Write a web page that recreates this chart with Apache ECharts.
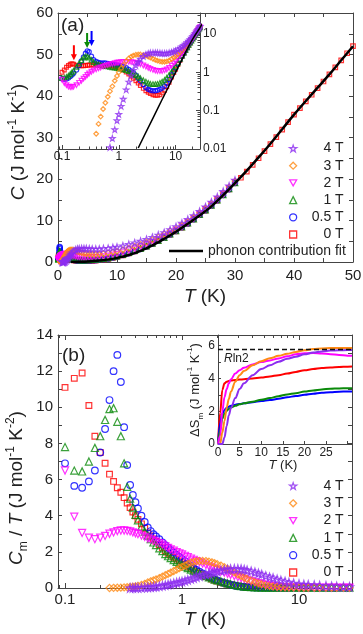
<!DOCTYPE html>
<html>
<head>
<meta charset="UTF-8">
<title>Specific heat</title>
<script src="https://cdn.jsdelivr.net/npm/echarts@6/dist/echarts.min.js"></script>
<style>
  html, body { margin: 0; padding: 0; background: #fff; }
  #main { width: 363px; height: 634px; }
</style>
</head>
<body>
<div id="main"></div>
<script>
// ---------- data ----------
const fields = ['0 T', '0.5 T', '1 T', '2 T', '3 T', '4 T'];
const legendOrder = ['4 T', '3 T', '2 T', '1 T', '0.5 T', '0 T'];

// (a) total C (J/mol K) vs T (K), used by main panel and log-log inset
const tempC = [0.10,0.11,0.12,0.13,0.14,0.15,0.16,0.18,0.20,0.22,
  0.24,0.26,0.28,0.30,0.33,0.36,0.40,0.44,0.48,0.53,
  0.58,0.64,0.70,0.77,0.85,0.93,1.0,1.1,1.2,1.35,
  1.5,1.65,1.8,2.0,2.2,2.4,2.7,3.0,3.3,3.6,
  4.0,4.4,4.8,5.3,5.8,6.4,7.0,7.7,8.5,9.3,
  10,11,12,13,14,15,16,17,18,19,
  20,21,22,23,24,25,26,27,28,29,
  30];
const c0T = [1.0,1.15,1.35,1.5,1.62,1.68,1.62,1.52,1.48,1.47,
  1.48,1.5,1.52,1.54,1.55,1.55,1.55,1.54,1.52,1.5,
  1.5,1.49,1.47,1.45,1.42,1.38,1.33,1.25,1.15,1.02,
  0.9,0.8,0.7,0.6,0.52,0.45,0.38,0.33,0.3,0.28,
  0.26,0.25,0.25,0.26,0.29,0.34,0.42,0.55,0.75,0.98,
  1.2,1.6,2.05,2.55,3.1,3.7,4.35,5.05,5.8,6.6,
  7.4,8.3,9.25,10.25,11.3,12.4,13.55,14.8,16.1,17.5,
  19.0];
const c05T = [0.68,0.66,0.67,0.71,0.78,0.85,0.94,1.15,1.5,1.95,
  2.5,3.1,3.6,3.4,2.6,2.1,1.9,1.8,1.74,1.73,
  1.73,1.7,1.66,1.62,1.58,1.55,1.52,1.47,1.4,1.3,
  1.18,1.06,0.97,0.83,0.7,0.6,0.48,0.4,0.36,0.34,
  0.33,0.33,0.34,0.36,0.39,0.44,0.52,0.65,0.85,1.07,
  1.3,1.68,2.12,2.62,3.15,3.75,4.4,5.1,5.85,6.65,
  7.45,8.35,9.3,10.3,11.35,12.45,13.6,14.85,16.15,17.55,
  19.05];
const c1T = [0.7,0.72,0.76,0.82,0.9,1.0,1.1,1.38,1.7,2.05,
  2.4,2.58,2.55,2.4,2.1,1.85,1.68,1.6,1.53,1.48,
  1.45,1.42,1.38,1.35,1.32,1.3,1.27,1.24,1.2,1.14,
  1.07,1.0,0.92,0.85,0.77,0.7,0.62,0.57,0.53,0.5,
  0.49,0.49,0.5,0.53,0.57,0.63,0.72,0.85,1.02,1.22,
  1.42,1.8,2.25,2.72,3.25,3.85,4.48,5.17,5.9,6.7,
  7.5,8.4,9.35,10.35,11.4,12.5,13.65,14.9,16.2,17.6,
  19.1];
const c2T = [0.64,0.52,0.46,0.42,0.41,0.41,0.42,0.46,0.53,0.6,
  0.68,0.76,0.85,0.93,1.03,1.12,1.2,1.27,1.33,1.4,
  1.47,1.54,1.6,1.66,1.72,1.77,1.8,1.84,1.86,1.87,
  1.86,1.84,1.8,1.75,1.68,1.6,1.5,1.4,1.3,1.22,
  1.15,1.1,1.08,1.07,1.08,1.12,1.18,1.3,1.48,1.7,
  1.9,2.28,2.7,3.15,3.63,4.15,4.75,5.4,6.1,6.85,
  7.6,8.5,9.45,10.45,11.5,12.6,13.75,15.0,16.3,17.7,
  19.2];
const c3T = [null,null,null,null,null,null,null,null,null,null,
  null,null,null,null,null,null,0.025,0.045,0.07,0.11,
  0.16,0.23,0.32,0.43,0.6,0.8,1.0,1.27,1.55,1.95,
  2.3,2.55,2.72,2.85,2.9,2.9,2.82,2.7,2.55,2.4,
  2.25,2.1,2.0,1.92,1.88,1.88,1.92,2.02,2.2,2.42,
  2.6,2.95,3.35,3.78,4.25,4.8,5.4,6.05,6.75,7.5,
  7.95,8.85,9.8,10.8,11.85,12.95,14.1,15.35,16.65,18.05,
  19.5];
const c4T = [null,null,null,null,null,null,null,null,null,null,
  null,null,null,null,null,null,null,null,null,null,
  null,null,0.011,0.019,0.032,0.055,0.08,0.13,0.2,0.35,
  0.56,0.82,1.13,1.5,1.88,2.2,2.6,2.9,3.08,3.18,
  3.22,3.22,3.2,3.16,3.12,3.1,3.12,3.2,3.3,3.45,
  3.6,3.9,4.25,4.6,5.0,5.45,5.95,6.5,7.1,7.8,
  8.5,9.35,10.25,11.2,12.2,13.3,14.45,15.7,17.0,18.35,
  19.75];
// 0 T continues to 50 K
const tempHigh = [31,32,33,34,35,36,37,38,39,40,41,42,43,44,45,46,47,48,49,50];
const c0THigh = [20.3,21.8,23.4,25.0,26.7,28.4,30.1,31.9,33.7,35.5,37.1,38.7,40.3,41.9,43.5,45.2,46.9,48.6,50.3,52.0];

// phonon contribution fit
const tempPh = [2.2,3,4,5,6,7,8,10,12,14,16,18,20,22,24,26,28,30,32,34,36,38,40,42,44,46,48,50];
const cPh = [0.0106,0.027,0.064,0.125,0.216,0.34,0.51,1.0,1.7,2.7,4.0,5.6,7.3,9.2,11.2,13.4,16.1,19.0,22.0,25.2,28.5,32.0,35.5,38.8,42.0,45.2,48.6,52.0];

// arrows in inset (a): 0 T, 0.5 T, 1 T
const arrowT = [0.162, 0.332, 0.277];
const arrowC = [2.07, 4.8, 4.28];

// (b) Cm/T (J/mol K^2) vs T (K)
const tempCm = [0.10,0.12,0.14,0.16,0.18,0.20,0.22,0.24,0.26,0.28,
  0.30,0.32,0.34,0.36,0.38,0.40,0.42,0.45,0.48,0.51,
  0.54,0.57,0.60,0.64,0.68,0.72,0.76,0.80,0.85,0.90,
  0.95,1.0,1.06,1.12,1.19,1.26,1.33,1.41,1.5,1.6,
  1.7,1.8,1.9,2.0,2.15,2.3,2.45,2.6,2.8,3.0,
  3.2,3.4,3.6,3.9,4.2,4.5,4.8,5.2,5.6,6.0,
  6.5,7.0,7.6,8.2,9.0,10,11,12,13.5,15,
  17,19,21,24,27];
const cm0T = [11.1,11.6,11.9,10.1,8.4,7.5,6.9,6.3,5.9,5.55,
  5.3,5.0,4.7,4.45,4.2,4.0,3.8,3.55,3.3,3.05,
  2.88,2.72,2.58,2.4,2.22,2.05,1.93,1.82,1.7,1.6,
  1.5,1.4,1.3,1.2,1.1,1.0,0.9,0.82,0.73,0.65,
  0.58,0.5,0.44,0.39,0.32,0.27,0.22,0.18,0.14,0.11,
  0.09,0.07,0.055,0.04,0.03,0.025,0.02,0.02,0.02,0.02,
  0.02,0.02,0.02,0.02,0.02,0.02,0.02,0.02,0.02,0.02,
  0.02,0.02,0.02,0.02,0.02];
const cm05T = [6.9,5.65,5.55,5.9,6.5,7.5,8.8,10.4,12.0,12.9,
  11.4,8.9,6.8,5.7,5.15,4.75,4.4,4.0,3.65,3.35,
  3.15,2.98,2.85,2.7,2.52,2.37,2.23,2.1,1.96,1.83,
  1.72,1.6,1.48,1.35,1.22,1.1,1.0,0.9,0.8,0.7,
  0.62,0.55,0.48,0.42,0.34,0.28,0.23,0.18,0.14,0.1,
  0.08,0.06,0.05,0.04,0.03,0.025,0.02,0.02,0.02,0.02,
  0.02,0.02,0.02,0.02,0.02,0.02,0.02,0.02,0.02,0.02,
  0.02,0.02,0.02,0.02,0.02];
const cm1T = [7.8,6.5,6.45,7.0,7.75,8.4,9.3,9.9,9.95,9.2,
  8.4,6.9,5.6,4.95,4.45,4.05,3.75,3.4,3.12,2.9,
  2.7,2.52,2.38,2.2,2.04,1.88,1.76,1.66,1.55,1.45,
  1.36,1.28,1.18,1.1,1.02,0.95,0.89,0.82,0.74,0.66,
  0.59,0.53,0.47,0.43,0.37,0.31,0.26,0.22,0.17,0.13,
  0.1,0.08,0.065,0.05,0.04,0.03,0.025,0.02,0.02,0.02,
  0.02,0.02,0.02,0.02,0.02,0.02,0.02,0.02,0.02,0.02,
  0.02,0.02,0.02,0.02,0.02];
const cm2T = [6.5,3.95,3.05,2.78,2.7,2.78,2.88,3.0,3.08,3.15,
  3.18,3.18,3.16,3.13,3.08,3.03,2.98,2.9,2.83,2.74,
  2.68,2.62,2.56,2.48,2.4,2.3,2.22,2.14,2.06,1.99,
  1.92,1.86,1.78,1.7,1.63,1.56,1.49,1.42,1.35,1.28,
  1.2,1.12,1.05,1.0,0.92,0.85,0.79,0.73,0.66,0.6,
  0.55,0.5,0.45,0.38,0.32,0.27,0.22,0.17,0.13,0.1,
  0.07,0.055,0.045,0.035,0.03,0.025,0.02,0.02,0.02,0.02,
  0.02,0.02,0.02,0.02,0.02];
const cm3T = [null,null,null,null,null,null,null,0.0,0.01,0.015,
  0.02,0.03,0.04,0.055,0.07,0.09,0.12,0.17,0.23,0.31,
  0.37,0.42,0.47,0.55,0.63,0.71,0.78,0.85,0.94,1.02,
  1.1,1.17,1.25,1.33,1.4,1.45,1.48,1.5,1.5,1.49,
  1.46,1.42,1.37,1.32,1.24,1.15,1.06,0.97,0.86,0.76,
  0.67,0.58,0.5,0.41,0.33,0.27,0.21,0.16,0.12,0.09,
  0.07,0.055,0.045,0.035,0.03,0.025,0.02,0.02,0.02,0.02,
  0.02,0.02,0.02,0.02,0.02];
const cm4T = [null,null,null,null,null,null,null,null,null,null,
  null,null,null,0.0,0.005,0.01,0.015,0.02,0.03,0.04,
  0.05,0.065,0.08,0.1,0.13,0.16,0.19,0.22,0.26,0.3,
  0.33,0.36,0.4,0.45,0.5,0.55,0.6,0.66,0.71,0.76,
  0.8,0.85,0.88,0.92,0.96,1.0,1.03,1.05,1.06,1.06,
  1.05,1.02,0.98,0.93,0.87,0.81,0.75,0.67,0.6,0.55,
  0.48,0.42,0.36,0.31,0.26,0.22,0.2,0.18,0.16,0.14,
  0.12,0.1,0.09,0.08,0.07];

// (b) inset: magnetic entropy dSm (J/mol K) vs T (K)
const tempS = [0,0.5,1,1.5,2,2.5,3,4,5,6,8,10,12,14,16,18,20,22,24,26,28,30,31];
const dS0T = [0,1.9,3.3,3.7,3.8,3.85,3.88,3.9,3.93,3.95,4.0,4.05,4.12,4.2,4.3,4.4,4.5,4.57,4.63,4.67,4.7,4.72,4.73];
const dS05T = [0,1.3,1.85,2.08,2.2,2.28,2.33,2.4,2.44,2.48,2.55,2.62,2.68,2.76,2.85,2.93,3.0,3.06,3.12,3.16,3.19,3.21,3.21];
const dS1T = [0,0.85,1.55,1.85,2.02,2.13,2.22,2.33,2.42,2.48,2.58,2.7,2.8,2.92,3.02,3.1,3.2,3.27,3.33,3.37,3.39,3.4,3.4];
const dS2T = [0,0.5,2.0,2.85,3.35,3.7,3.95,4.3,4.5,4.65,4.85,5.0,5.1,5.22,5.35,5.47,5.53,5.55,5.52,5.48,5.43,5.39,5.38];
const dS3T = [0,0.02,0.7,1.4,2.2,2.75,3.2,3.8,4.2,4.45,4.8,5.05,5.23,5.38,5.5,5.62,5.72,5.79,5.83,5.85,5.86,5.86,5.86];
const dS4T = [0,0,0,0.4,1.1,1.75,2.2,2.8,3.35,3.7,4.2,4.57,4.8,5.02,5.2,5.33,5.47,5.58,5.65,5.7,5.72,5.73,5.73];
const rln2 = 5.76;

// ---------- styling ----------
const cAll = [c0T, c05T, c1T, c2T, c3T, c4T];
const cmAll = [cm0T, cm05T, cm1T, cm2T, cm3T, cm4T];
const dSAll = [dS0T, dS05T, dS1T, dS2T, dS3T, dS4T];
const COLORS = ['#ff0000', '#0000ff', '#0a8a0a', '#ff00ff', '#ff8a14', '#8c2cf0'];
const SYMBOLS = [
  'rect',
  'circle',
  'triangle',
  'path://M0,0 L10,0 L5,8.7 Z',
  'path://M5,0 L10,5 L5,10 L0,5 Z',
  'path://M12,0 L14.9,8.6 L24,8.6 L16.6,14 L19.4,22.8 L12,17.4 L4.6,22.8 L7.4,14 L0,8.6 L9.1,8.6 Z'
];
const SIZES = [6, 7, 7.5, 7.5, 7.5, 8.5];
const FONT = '"Liberation Sans", Arial, Helvetica, sans-serif';
const INK = '#222';
const ARROW = 'path://M2,0 L4,0 L4,9 L6,9 L3,15 L0,9 L2,9 Z';
const lg = Math.log10;

function pairs(xs, ys, fx, fy) {
  const out = [];
  xs.forEach((x, i) => {
    const y = ys[i];
    if (y == null) return;
    if (fy && y <= 0) return;
    out.push([fx ? fx(x) : x, fy ? fy(y) : y]);
  });
  return out;
}

function logMinors(lo, hi) {
  const out = [];
  for (let d = -3; d <= 2; d++) {
    for (let m = 2; m <= 9; m++) {
      const v = d + lg(m);
      if (v > lo && v < hi) out.push(v);
    }
  }
  return out;
}
const LOGLBL = { '-2': '0.01', '-1': '0.1', '0': '1', '1': '10' };
const logFmt = v => LOGLBL[String(Math.round(v))] || '';

function ax(o) {
  const a = {
    type: 'value', gridIndex: o.grid, position: o.pos, min: o.min, max: o.max,
    splitLine: { show: false },
    axisLine: { show: o.line !== false, onZero: false, lineStyle: { color: '#444', width: 1 } },
    axisTick: { show: true, inside: true, length: o.tickLen || 4, lineStyle: { color: '#444', width: 1 } },
    axisLabel: { show: !!o.fmt, margin: o.margin || 4, fontSize: o.fontSize || 15, color: INK,
      fontFamily: FONT, formatter: o.fmt }
  };
  if (o.interval) a.interval = o.interval;
  if (o.ticks) a.axisTick.customValues = o.ticks;
  if (o.labels) a.axisLabel.customValues = o.labels;
  return a;
}

const insX = [-1.07, 1.43];
const insY = [-2, 1.544];
const botX = [-1.06, 1.453];

const xAxis = [
  ax({ grid: 0, pos: 'bottom', min: 0, max: 50, interval: 5, margin: 6, fmt: v => (v % 10 === 0 ? String(v) : '') }),
  ax({ grid: 0, pos: 'top', min: 0, max: 50, interval: 5 }),
  ax({ grid: 1, pos: 'bottom', min: insX[0], max: insX[1], ticks: [-1, 0, 1], labels: [-1, 0, 1], fmt: logFmt, fontSize: 12, margin: 2 }),
  ax({ grid: 1, pos: 'bottom', min: insX[0], max: insX[1], ticks: logMinors(insX[0], insX[1]), tickLen: 2.5, line: false }),
  ax({ grid: 2, pos: 'bottom', min: botX[0], max: botX[1], ticks: [-1, 0, 1], labels: [-1, 0, 1], fmt: logFmt, margin: 4, tickLen: 5 }),
  ax({ grid: 2, pos: 'bottom', min: botX[0], max: botX[1], ticks: logMinors(botX[0], botX[1]), tickLen: 3, line: false }),
  ax({ grid: 2, pos: 'top', min: botX[0], max: botX[1], ticks: [-1, 0, 1], tickLen: 5 }),
  ax({ grid: 2, pos: 'top', min: botX[0], max: botX[1], ticks: logMinors(botX[0], botX[1]), tickLen: 3, line: false }),
  ax({ grid: 3, pos: 'bottom', min: 0, max: 31, interval: 5, labels: [0, 5, 10, 15, 20, 25], fmt: v => String(v), fontSize: 12, margin: 3, tickLen: 3 })
];
const yAxis = [
  ax({ grid: 0, pos: 'left', min: 0, max: 60, interval: 5, margin: 5, fmt: v => (v % 10 === 0 ? String(v) : '') }),
  ax({ grid: 0, pos: 'right', min: 0, max: 60, interval: 5 }),
  ax({ grid: 1, pos: 'right', min: insY[0], max: insY[1], ticks: [-2, -1, 0, 1], labels: [-2, -1, 0, 1], fmt: logFmt, fontSize: 12, margin: 3 }),
  ax({ grid: 1, pos: 'right', min: insY[0], max: insY[1], ticks: logMinors(insY[0], insY[1]), tickLen: 2.5, line: false }),
  ax({ grid: 2, pos: 'left', min: 0, max: 14, interval: 1, margin: 5, fmt: v => (v % 2 === 0 ? String(v) : '') }),
  ax({ grid: 2, pos: 'right', min: 0, max: 14, interval: 1 }),
  ax({ grid: 3, pos: 'left', min: 0, max: 6.65, interval: 1, labels: [0, 2, 4, 6], fmt: v => String(v), fontSize: 12, margin: 3, tickLen: 3 })
];

function scatter(i, xi, yi, data, scale, extra) {
  return Object.assign({
    name: fields[i], type: 'scatter', xAxisIndex: xi, yAxisIndex: yi, data,
    symbol: SYMBOLS[i], symbolSize: SIZES[i] * scale, clip: true, silent: true,
    itemStyle: { color: 'rgba(0,0,0,0)', borderColor: COLORS[i], borderWidth: 1.2 }
  }, extra || {});
}

const series = [];
// (a) main
fields.forEach((f, i) => {
  let d = pairs(tempC, cAll[i]);
  if (i === 0) d = d.concat(pairs(tempHigh, c0THigh));
  series.push(scatter(i, 0, 0, d, 0.75));
});
series.push({ name: 'phonon contribution fit', type: 'line', xAxisIndex: 0, yAxisIndex: 0,
  data: pairs(tempPh, cPh), symbol: 'none', smooth: 0.3, silent: true,
  lineStyle: { color: '#000', width: 2.5 }, itemStyle: { color: '#000' } });
// (a) inset
fields.forEach((f, i) => {
  const extra = {};
  if (i < 3) {
    extra.markPoint = {
      silent: true, symbol: ARROW, symbolSize: [6, 15], symbolOffset: [0, '-50%'],
      label: { show: false }, itemStyle: { color: COLORS[i] },
      data: [{ coord: [lg(arrowT[i]), lg(arrowC[i])] }]
    };
  }
  series.push(scatter(i, 2, 2, pairs(tempC, cAll[i], lg, lg), 0.62, extra));
});
series.push({ name: 'phonon contribution fit', type: 'line', xAxisIndex: 2, yAxisIndex: 2,
  data: pairs(tempPh, cPh, lg, lg), symbol: 'none', silent: true,
  lineStyle: { color: '#000', width: 1.5 }, itemStyle: { color: '#000' } });
// (b) main
fields.forEach((f, i) => {
  series.push(scatter(i, 4, 4, pairs(tempCm, cmAll[i], lg), 0.95));
});
// (b) inset
fields.forEach((f, i) => {
  const s = { name: 'dS ' + f, type: 'line', xAxisIndex: 8, yAxisIndex: 6, data: pairs(tempS, dSAll[i]),
    symbol: 'none', smooth: 0.35, smoothMonotone: 'x', silent: true,
    lineStyle: { color: COLORS[i], width: 2 }, itemStyle: { color: COLORS[i] } };
  if (i === 0) {
    s.markLine = { silent: true, symbol: 'none', label: { show: false },
      lineStyle: { color: '#111', type: [5, 3], width: 1.3 }, data: [{ yAxis: rln2 }] };
  }
  series.push(s);
});

// ---------- text ----------
function richSet(size) {
  const sm = Math.round(size * 0.62);
  return {
    n: { fontSize: size, fontFamily: FONT, fill: INK, color: INK, lineHeight: size + 6 },
    i: { fontSize: size, fontFamily: FONT, fontStyle: 'italic', fill: INK, color: INK, lineHeight: size + 6 },
    sup: { fontSize: sm, fontFamily: FONT, fill: INK, color: INK, lineHeight: sm, verticalAlign: 'top' },
    sub: { fontSize: sm, fontFamily: FONT, fill: INK, color: INK, lineHeight: sm, verticalAlign: 'bottom' }
  };
}
function txt(x, y, text, size, rot, align) {
  return { type: 'text', x, y, rotation: rot || 0, silent: true, z: 100,
    style: { text, fontSize: size, fontFamily: FONT, fill: INK, lineHeight: size + 6,
      align: align || 'center', verticalAlign: 'middle', rich: richSet(size) } };
}
const UNIT1 = '{n| (J mol}{sup|-1}{n| K}{sup|-1}{n|)}';
const UNIT2 = '{n| (J mol}{sup|-1}{n| K}{sup|-2}{n|)}';
const graphicEls = [
  txt(61, 26, '{n|(a)}', 19, 0, 'left'),
  txt(62, 356, '{n|(b)}', 19, 0, 'left'),
  txt(19, 142, '{i|C}' + UNIT1, 19, Math.PI / 2),
  txt(205, 297, '{i|T}{n| (K)}', 19),
  txt(17, 488, '{i|C}{sub|m}{n| / }{i|T}' + UNIT2, 19, Math.PI / 2),
  txt(205, 620, '{i|T}{n| (K)}', 19),
  txt(195, 390, '{n|ΔS}{sub|m}' + UNIT1, 13, Math.PI / 2),
  txt(283, 465, '{i|T}{n| (K)}', 13),
  txt(224, 359, '{i|R}{n|ln2}', 12, 0, 'left')
];

// one legend component per row, so each row sits at a fixed height
const legendText = {
  color: INK, fontSize: 14, fontFamily: FONT, lineHeight: 12,
  rich: { r: { width: 42, align: 'right', fontSize: 14, fontFamily: FONT, lineHeight: 12, color: INK } }
};
function fieldLegends(firstCenter, step) {
  return legendOrder.map((name, k) => ({
    data: [name], left: 289, top: firstCenter + k * step - 6, orient: 'vertical', padding: 0,
    itemWidth: 7, itemHeight: 7, selectedMode: false,
    itemStyle: { borderWidth: 1.3 },
    formatter: n => '{r|' + n + '}', textStyle: legendText
  }));
}

const option = {
  animation: false,
  backgroundColor: '#fff',
  textStyle: { fontFamily: FONT },
  grid: [
    { left: 58, top: 13, width: 295, height: 249, outerBoundsMode: 'none' },
    { left: 58, top: 13, width: 142, height: 136, outerBoundsMode: 'none' },
    { left: 58, top: 335, width: 294, height: 253, outerBoundsMode: 'none' },
    { left: 218, top: 335, width: 134, height: 109, outerBoundsMode: 'none' }
  ],
  xAxis, yAxis,
  legend: fieldLegends(147.5, 17.2).concat(fieldLegends(485, 17.3), [
    { data: [{ name: 'phonon contribution fit', icon: 'path://M0,0 L34,0 L34,2.5 L0,2.5 Z' }],
      left: 169, top: 244, padding: 0, itemWidth: 34, itemHeight: 12,
      itemStyle: { color: '#000', borderWidth: 0 },
      selectedMode: false, textStyle: { color: INK, fontSize: 14, fontFamily: FONT, lineHeight: 12 } }
  ]),
  graphic: { elements: graphicEls },
  series
};

const chart = echarts.init(document.getElementById('main'));
chart.setOption(option);
</script>
</body>
</html>
